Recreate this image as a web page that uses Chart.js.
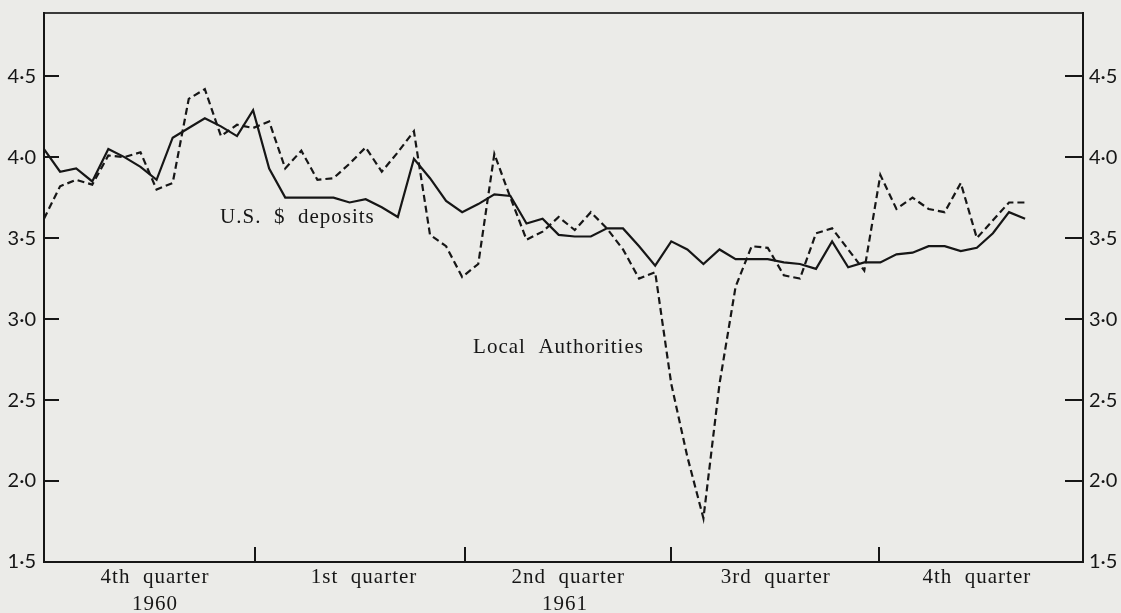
<!DOCTYPE html>
<html>
<head>
<meta charset="utf-8">
<script src="https://cdn.jsdelivr.net/npm/chart.js@4/dist/chart.umd.min.js"></script>
<style>
  html, body { margin: 0; padding: 0; background: #ebebe8; }
  #wrap { width: 1121px; height: 613px; }
</style>
</head>
<body>
<div id="wrap"><canvas id="c" width="1121" height="613"></canvas></div>
<script>
// ---- data (weekly observations, Oct 1960 - Dec 1961) ----
const weeks = [0,1,2,3,4,5,6,7,8,9,10,11,12,13,14,15,16,17,18,19,20,21,22,23,24,25,26,27,28,29,30,
  31,32,33,34,35,36,37,38,39,40,41,42,43,44,45,46,47,48,49,50,51,52,53,54,55,56,57,58,59,60,61];

const usDeposits = [4.05,3.91,3.93,3.85,4.05,4.00,3.94,3.86,4.12,4.18,4.24,4.19,4.13,4.29,3.93,3.75,
  3.75,3.75,3.75,3.72,3.74,3.69,3.63,3.99,3.87,3.73,3.66,3.71,3.77,3.76,3.59,3.62,3.52,3.51,3.51,
  3.56,3.56,3.45,3.33,3.48,3.43,3.34,3.43,3.37,3.37,3.37,3.35,3.34,3.31,3.48,3.32,3.35,3.35,3.40,
  3.41,3.45,3.45,3.42,3.44,3.53,3.66,3.62];

const localAuthorities = [3.62,3.82,3.86,3.83,4.01,4.00,4.03,3.80,3.84,4.36,4.42,4.13,4.20,4.18,4.22,3.93,
  4.04,3.86,3.87,3.96,4.06,3.91,4.03,4.16,3.52,3.45,3.26,3.34,4.02,3.75,3.49,3.54,3.63,3.55,3.66,
  3.56,3.43,3.25,3.29,2.60,2.15,1.77,2.60,3.20,3.45,3.44,3.27,3.25,3.53,3.56,3.43,3.30,3.89,3.68,
  3.75,3.68,3.66,3.84,3.50,3.61,3.72,3.72];

const quarterLabels = ["4th  quarter", "1st  quarter", "2nd  quarter", "3rd  quarter", "4th  quarter"];
const yearLabels = ["1960", "1961"];
const seriesLabels = ["U.S.  $  deposits", "Local  Authorities"];
const yTickValues = [1.5, 2.0, 2.5, 3.0, 3.5, 4.0, 4.5];

// ---- layout (positions in axis units) ----
const quarterBounds = [13.1, 26.2, 39.0, 51.9];
const quarterLabelX = [6.9, 19.9, 32.6, 45.5, 58.0];
const yearLabelX = [6.9, 32.4];
const seriesLabelPos = [{x: 10.95, y: 3.593}, {x: 26.68, y: 2.79}];
const X_MAX = 64.6, Y_MIN = 1.5, Y_MAX = 4.89;

const INK = '#161616';
const serif = '"Liberation Serif", "Times New Roman", serif';

const fmt = v => v.toFixed(1).replace('.', '\u00B7');

const decor = {
  id: 'decor',
  beforeDraw(chart) {
    const ctx = chart.ctx;
    ctx.save();
    ctx.fillStyle = '#ebebe8';
    ctx.fillRect(0, 0, chart.width, chart.height);
    ctx.restore();
  },
  afterDraw(chart) {
    const ctx = chart.ctx;
    const xs = chart.scales.x, ys = chart.scales.y;
    const area = chart.chartArea;
    ctx.save();
    ctx.strokeStyle = INK;
    ctx.lineWidth = 2;
    // inward y ticks
    yTickValues.forEach(v => {
      if (v === Y_MIN) return;
      const py = Math.round(ys.getPixelForValue(v));
      ctx.beginPath();
      ctx.moveTo(area.left, py); ctx.lineTo(area.left + 15, py);
      ctx.moveTo(area.right, py); ctx.lineTo(area.right - 18, py);
      ctx.stroke();
    });
    // quarter division ticks
    quarterBounds.forEach(q => {
      const px = Math.round(xs.getPixelForValue(q));
      ctx.beginPath();
      ctx.moveTo(px, area.bottom); ctx.lineTo(px, area.bottom - 15);
      ctx.stroke();
    });
    // texts
    ctx.fillStyle = INK;
    ctx.font = '21px ' + serif;
    ctx.textBaseline = 'alphabetic';
    if ('letterSpacing' in ctx) ctx.letterSpacing = '1px';
    ctx.textAlign = 'center';
    quarterLabels.forEach((t, i) => {
      ctx.fillText(t, xs.getPixelForValue(quarterLabelX[i]), 583);
    });
    yearLabels.forEach((t, i) => {
      ctx.fillText(t, xs.getPixelForValue(yearLabelX[i]), 610);
    });
    ctx.textAlign = 'left';
    seriesLabels.forEach((t, i) => {
      ctx.fillText(t, xs.getPixelForValue(seriesLabelPos[i].x), ys.getPixelForValue(seriesLabelPos[i].y));
    });
    ctx.restore();
  }
};

const yTickOpts = {
  color: INK,
  font: { family: 'Lato, "Open Sans", sans-serif', size: 20 },
  callback: v => fmt(v)
};

const noPad = s => { s.paddingTop = 0; s.paddingBottom = 0; };

new Chart(document.getElementById('c'), {
  type: 'line',
  data: {
    datasets: [
      {
        label: 'U.S. $ deposits',
        data: weeks.map((w, i) => ({ x: w, y: usDeposits[i] })),
        borderColor: INK, borderWidth: 2.2, pointRadius: 0, tension: 0, fill: false
      },
      {
        label: 'Local Authorities',
        data: weeks.map((w, i) => ({ x: w, y: localAuthorities[i] })),
        borderColor: INK, borderWidth: 2.2, borderDash: [7, 4], pointRadius: 0, tension: 0, fill: false
      }
    ]
  },
  options: {
    responsive: false,
    devicePixelRatio: 1,
    animation: false,
    layout: { padding: 0 },
    plugins: { legend: { display: false }, tooltip: { enabled: false } },
    scales: {
      x: {
        type: 'linear', position: 'bottom', min: 0, max: X_MAX,
        grid: { display: false, drawTicks: false },
        border: { display: true, color: INK, width: 2 },
        ticks: { display: false },
        afterFit: s => { s.height = 51; s.paddingLeft = 0; s.paddingRight = 0; }
      },
      xTop: {
        type: 'linear', position: 'top', min: 0, max: X_MAX,
        grid: { display: false, drawTicks: false },
        border: { display: true, color: '#3a3a3a', width: 2 },
        ticks: { display: false },
        afterFit: s => { s.height = 13; s.paddingLeft = 0; s.paddingRight = 0; }
      },
      y: {
        type: 'linear', position: 'left', min: Y_MIN, max: Y_MAX,
        grid: { display: false, drawTicks: false },
        border: { display: true, color: INK, width: 2 },
        ticks: Object.assign({ stepSize: 0.5, includeBounds: false, padding: 8 }, yTickOpts),
        afterFit: s => { s.width = 44; noPad(s); }
      },
      y2: {
        type: 'linear', position: 'right', min: Y_MIN, max: Y_MAX,
        grid: { display: false, drawTicks: false },
        border: { display: true, color: INK, width: 2 },
        ticks: Object.assign({ stepSize: 0.5, includeBounds: false, padding: 6 }, yTickOpts),
        afterFit: s => { s.width = 38; noPad(s); }
      }
    }
  },
  plugins: [decor]
});
</script>
</body>
</html>
